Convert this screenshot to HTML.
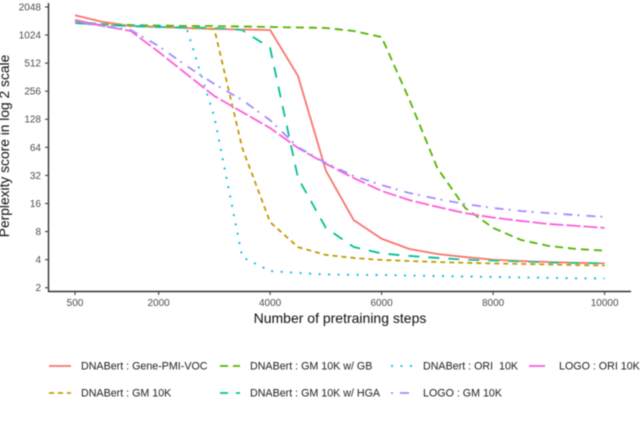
<!DOCTYPE html>
<html lang="en">
<head>
<meta charset="utf-8">
<title>Perplexity score chart</title>
<style>
html,body{margin:0;padding:0;background:#fff;}
svg{display:block;font-family:"Liberation Sans",sans-serif;}
</style>
</head>
<body>
<svg id="chart" width="640" height="429" viewBox="0 0 640 429" xmlns="http://www.w3.org/2000/svg">
  <defs>
    <filter id="soft" x="-5%" y="-5%" width="110%" height="110%"><feGaussianBlur stdDeviation="0.4"/></filter>
  </defs>
  <rect width="640" height="429" fill="#fff"/>
  <g id="plot" filter="url(#soft)"></g>
  <g id="axes" filter="url(#soft)"></g>
  <text x="340" y="323" text-anchor="middle" font-size="14" fill="#111" filter="url(#soft)">Number of pretraining steps</text>
  <text transform="translate(9,146) rotate(-90)" text-anchor="middle" font-size="13.8" fill="#111" filter="url(#soft)">Perplexity score in log 2 scale</text>
  <g id="legend" filter="url(#soft)"></g>
</svg>
<script>
const steps = [500,1000,1500,2000,2500,3000,3500,4000,4500,5000,5500,6000,6500,7000,7500,8000,8500,9000,9500,10000];
const xTicks = [500,2000,4000,6000,8000,10000];
const yTicks = [2,4,8,16,32,64,128,256,512,1024,2048];
const geneVoc = [1673,1416,1280,1250,1220,1190,1175,1160,373,36,10.6,6.7,5.2,4.6,4.26,4.0,3.86,3.77,3.7,3.65];
const gm10k = [1380,1312,1280,1250,1220,1190,63,10.1,5.45,4.49,4.17,3.97,3.87,3.77,3.7,3.64,3.6,3.55,3.5,3.46];
const gmGb = [1416,1345,1312,1296,1280,1280,1265,1250,1235,1220,1133,975,206,38.3,14.3,8.75,6.5,5.6,5.2,5.0];
const gmHga = [1380,1312,1280,1250,1235,1220,1160,744,30,8.75,5.46,4.66,4.38,4.17,4.0,3.92,3.82,3.73,3.68,3.65];
const ori10k = [1416,1345,1280,1250,1220,135,4.26,3.02,2.88,2.77,2.75,2.74,2.7,2.67,2.64,2.61,2.58,2.55,2.52,2.51];
const logoOri = [1489,1280,1133,676,391,227,153,103,63,42.6,30,21.8,17.4,14.7,12.6,11.3,10.4,9.64,9.2,8.75];
const logoGm = [1416,1280,1160,781,478,306,206,125,64.3,43.5,31.6,25.2,20.7,17.9,15.8,14.3,13.3,12.6,12.0,11.5];

const NS = 'http://www.w3.org/2000/svg';
const xScale = v => 75 + (v - 500) * 0.05575;
const yScale = v => 287.7 - (Math.log2(v) - 1) * 28.07;

function make(tag, attrs, parent) {
  const el = document.createElementNS(NS, tag);
  for (const k in attrs) el.setAttribute(k, attrs[k]);
  parent.appendChild(el);
  return el;
}

const plot = document.getElementById('plot');
const axes = document.getElementById('axes');
const legend = document.getElementById('legend');

const series = [
  {key:'gene-pmi-voc', values:geneVoc, color:'#F8766D', dash:''},
  {key:'gm-10k', values:gm10k, color:'#C49A00', dash:'5 4'},
  {key:'gm-10k-gb', values:gmGb, color:'#53B400', dash:'8 5'},
  {key:'gm-10k-hga', values:gmHga, color:'#00C094', dash:'11 9'},
  {key:'ori-10k', values:ori10k, color:'#00B6EB', dash:'2 7.5'},
  {key:'logo-ori', values:logoOri, color:'#FB61D7', dash:'14 3'},
  {key:'logo-gm', values:logoGm, color:'#A58AFF', dash:'2 7 9 5'}
];

series.forEach(s => {
  const d = s.values.map((v, i) => xScale(steps[i]).toFixed(2) + ',' + yScale(v).toFixed(2)).join(' ');
  const line = make('polyline', {points:d, fill:'none', stroke:s.color, 'stroke-width':1.8, 'stroke-dasharray':s.dash, 'stroke-linejoin':'round'}, plot);
  
  
});

const yAxis = make('line', {x1:48.5, x2:48.5, y1:3, y2:291.5, stroke:'#333', 'stroke-width':1.4}, axes);


const xAxis = make('line', {x1:48, x2:631, y1:291.5, y2:291.5, stroke:'#333', 'stroke-width':1.4}, axes);



xTicks.forEach(t => {
  const x = xScale(t);
  const tick = make('line', {x1:x, x2:x, y1:291.5, y2:295, stroke:'#333', 'stroke-width':1}, axes);
  
  
  const label = make('text', {x:x, y:306, 'text-anchor':'middle', 'font-size':10, fill:'#4d4d4d'}, axes);
  label.textContent = t;
  
  
});

yTicks.forEach(t => {
  const y = yScale(t);
  const tick = make('line', {x1:45, x2:48.5, y1:y, y2:y, stroke:'#333', 'stroke-width':1}, axes);
  
  
  const label = make('text', {x:41, y:y + 3.4, 'text-anchor':'end', 'font-size':10, fill:'#4d4d4d'}, axes);
  label.textContent = t;
  
  
});

const legendLabels = ['DNABert : Gene-PMI-VOC','DNABert : GM 10K','DNABert : GM 10K w/ GB','DNABert : GM 10K w/ HGA','DNABert : ORI  10K','LOGO : GM 10K','LOGO : ORI 10K'];
const legendColors = ['#F8766D','#C49A00','#53B400','#00C094','#00B6EB','#A58AFF','#FB61D7'];
const legendDashes = ['','5 4','8 5','8 8','2 7.5','2 7 9 5','16 3'];
const legendKeyX = [49,49,220,220,391,391,529];
const legendKeyEnd = [71,71,240,240,413,413,545];
const legendTextX = [81,81,250,250,423,423,559];
const legendRowY = [366,393,366,393,366,393,366];

legendLabels.forEach((name, i) => {
  const key = make('line', {x1:legendKeyX[i], x2:legendKeyEnd[i], y1:legendRowY[i], y2:legendRowY[i], stroke:legendColors[i], 'stroke-width':1.8, 'stroke-dasharray':legendDashes[i]}, legend);
  
  
  const text = make('text', {x:legendTextX[i], y:legendRowY[i] + 3.6, 'font-size':10.7, fill:'#222', style:'white-space:pre'}, legend);
  text.textContent = name;
  
  
});
</script>
</body>
</html>
